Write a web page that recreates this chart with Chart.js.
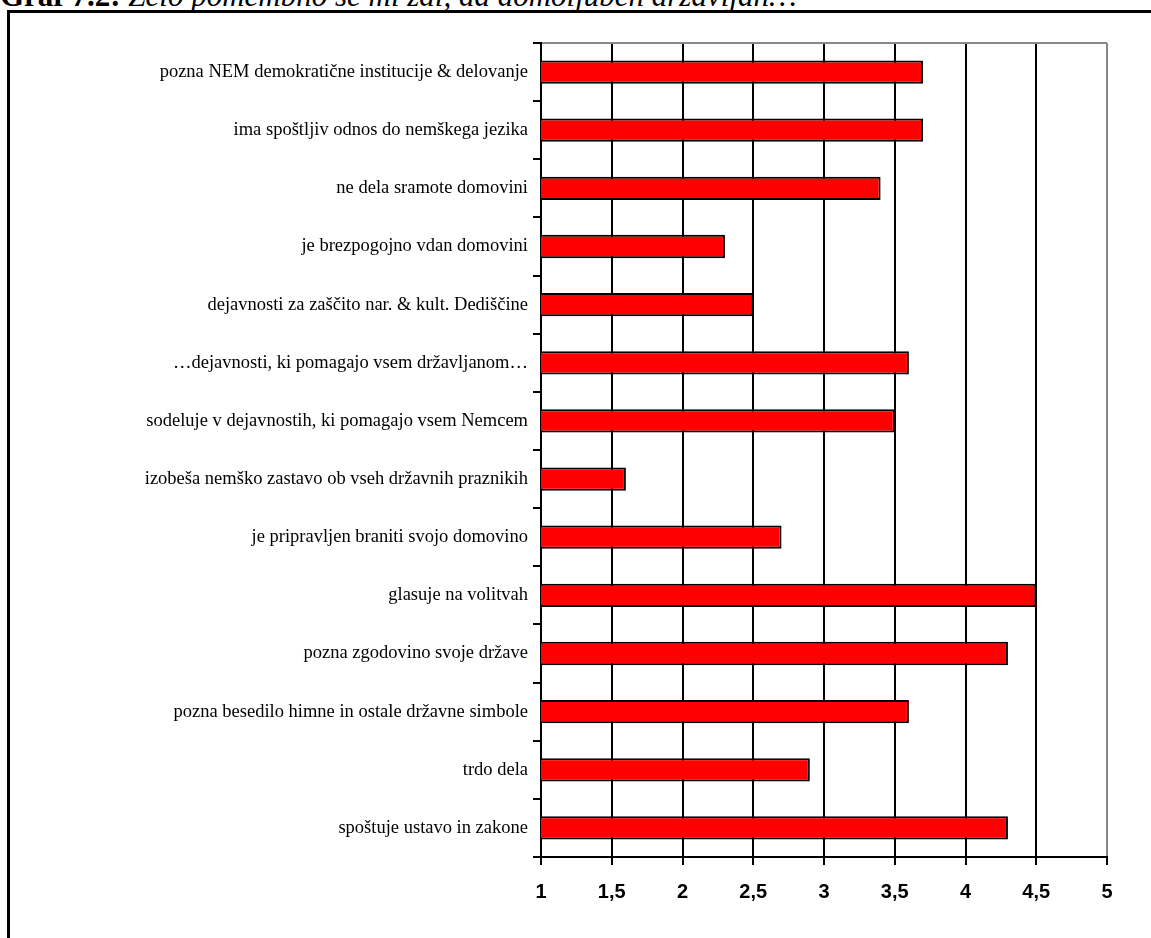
<!DOCTYPE html>
<html>
<head>
  <title>Graf 7.2</title>
  <script src="https://cdn.jsdelivr.net/npm/chart.js"></script>
  <style>
    html, body { margin: 0; padding: 0; background: #fff; overflow: hidden; width: 1151px; height: 938px; }
    #title {
      position: absolute; left: 0; top: -20px; white-space: nowrap;
      font-family: "Liberation Serif", serif; font-size: 31px; line-height: 31px; color: #000;
    }
    #frame {
      position: absolute; left: 7px; top: 10px; width: 1300px; height: 1100px;
      border: 3px solid #000;
    }
    #chart { position: absolute; left: 0; top: 0; }
  </style>
</head>
<body>
  <div id="title"><b>Graf 7.2:</b> <i>Zelo pomembno se mi zdi, da domoljuben državljan…</i></div>
  <div id="frame"></div>
  <canvas id="chart" width="1151" height="938"></canvas>

  <script>
    // kategorije od zgoraj navzdol
    var categories = [
      'pozna NEM demokratične institucije & delovanje',
      'ima spoštljiv odnos do nemškega jezika',
      'ne dela sramote domovini',
      'je brezpogojno vdan domovini',
      'dejavnosti za zaščito nar. & kult. Dediščine',
      '…dejavnosti, ki pomagajo vsem državljanom…',
      'sodeluje v dejavnostih, ki pomagajo vsem Nemcem',
      'izobeša nemško zastavo ob vseh državnih praznikih',
      'je pripravljen braniti svojo domovino',
      'glasuje na volitvah',
      'pozna zgodovino svoje države',
      'pozna besedilo himne in ostale državne simbole',
      'trdo dela',
      'spoštuje ustavo in zakone'
    ];
    var values = [3.7, 3.7, 3.4, 2.3, 2.5, 3.6, 3.5, 1.6, 2.7, 4.5, 4.3, 3.6, 2.9, 4.3];
    var tickValues = [1, 1.5, 2, 2.5, 3, 3.5, 4, 4.5, 5];

    var ctx = document.getElementById('chart').getContext('2d');
    var chart = new Chart(ctx, {
      type: 'bar',
      data: {
        labels: categories,
        datasets: [{
          data: values,
          backgroundColor: '#ff0000',
          borderColor: '#000000',
          borderWidth: 2,
          borderSkipped: false,
          barPercentage: 0.4,
          categoryPercentage: 1
        }]
      },
      options: {
        indexAxis: 'y',
        responsive: false,
        animation: false,
        layout: { padding: { left: 0, top: 43, right: 44, bottom: 0 } },
        plugins: { legend: { display: false }, tooltip: { enabled: false } },
        scales: {
          x: {
            type: 'linear',
            min: 1,
            max: 5,
            afterBuildTicks: function (s) {
              s.ticks = tickValues.map(function (v) { return { value: v }; });
            },
            afterFit: function (s) { s.height = 81; },
            border: { display: true, color: '#000', width: 2 },
            grid: {
              color: function (c) { return c.tick && c.tick.value === 5 ? '#888888' : '#000000'; },
              lineWidth: 2,
              drawTicks: true,
              tickLength: 8,
              tickColor: '#000',
              tickWidth: 2
            },
            ticks: {
              color: '#000',
              padding: 15,
              font: { family: '"Liberation Sans", Arial, sans-serif', size: 20, weight: 'bold' },
              callback: function (v) { return String(v).replace('.', ','); }
            }
          },
          y: {
            afterFit: function (s) { s.width = 541; },
            border: { display: true, color: '#000', width: 2 },
            grid: {
              offset: true,
              color: function (c) { return c.index === 0 ? '#888888' : 'rgba(0,0,0,0)'; },
              lineWidth: 2,
              drawTicks: true,
              tickLength: 8,
              tickColor: '#000',
              tickWidth: 2
            },
            ticks: {
              color: '#000',
              padding: 5,
              font: { family: '"Liberation Serif", "Times New Roman", serif', size: 18.5 }
            }
          }
        }
      }
    });
  </script>
</body>
</html>
